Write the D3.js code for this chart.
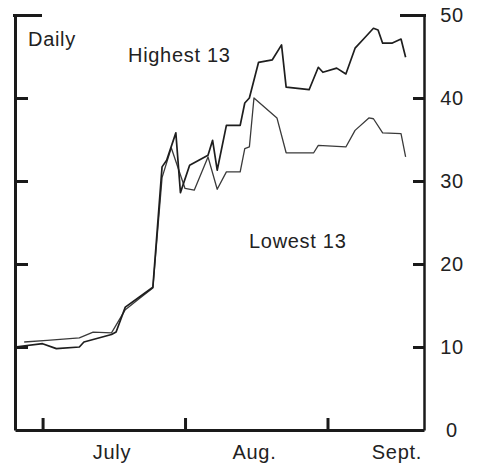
<!DOCTYPE html>
<html>
<head>
<meta charset="utf-8">
<script src="https://cdn.jsdelivr.net/npm/d3@7"></script>
<style>
  html, body { margin: 0; padding: 0; background: #fff; }
  svg { display: block; }
  text { font-family: "Liberation Sans", Arial, sans-serif; fill: #222; letter-spacing: 0.7px; }
</style>
</head>
<body>
<script>
// ---- data ----
const highDates = ["06-25","07-01","07-04","07-09","07-10","07-16","07-17","07-19","07-22","07-25",
  "07-27","07-28","07-30","07-31","08-02","08-06","08-07","08-08","08-10","08-13","08-14","08-15",
  "08-17","08-20","08-22","08-23","08-28","08-30","08-31","09-03","09-05","09-07","09-09","09-11",
  "09-12","09-13","09-15","09-17","09-18"];
const highValues = [10.0,10.4,9.8,10.0,10.6,11.5,11.8,14.8,16.0,17.2,
  31.7,32.5,35.8,28.6,31.9,33.1,34.9,31.3,36.7,36.7,39.4,40.0,
  44.3,44.6,46.4,41.3,41.0,43.7,43.1,43.6,42.9,46.0,47.2,48.4,
  48.2,46.6,46.6,47.1,44.9];

const lowDates = ["06-27","07-02","07-09","07-12","07-16","07-19","07-22","07-25","07-27","07-29",
  "08-01","08-03","08-06","08-08","08-10","08-13","08-14","08-15","08-16","08-21","08-23","08-29",
  "08-30","09-05","09-07","09-10","09-11","09-13","09-17","09-18"];
const lowValues = [10.6,10.8,11.1,11.8,11.7,14.5,15.8,17.1,30.4,34.0,
  29.1,28.9,32.9,29.0,31.1,31.1,33.9,34.1,40.0,37.6,33.4,33.4,
  34.3,34.1,36.1,37.6,37.5,35.8,35.7,32.9];

const yTicks = [0, 10, 20, 30, 40, 50];
const monthStarts = ["07-01", "08-01", "09-01"];
const monthMids = ["07-16", "08-16", "09-16"];
const monthLabels = ["July", "Aug.", "Sept."];
const seriesLabels = ["Highest 13", "Lowest 13"];
const frequencyLabel = "Daily";

// ---- setup ----
const parse = d3.timeParse("%m-%d");
const W = 480, H = 467;
const svg = d3.select("body").append("svg").attr("width", W).attr("height", H);

const x = d3.scaleTime().domain([parse("06-25"), parse("09-22")]).range([15, 424]);
const y = d3.scaleLinear().domain([0, 50]).range([430, 15]);

const high = highDates.map((d, i) => ({ date: parse(d), v: highValues[i] }));
const low = lowDates.map((d, i) => ({ date: parse(d), v: lowValues[i] }));

const line = d3.line().x(d => x(d.date)).y(d => y(d.v));

// ---- series ----
svg.append("path").datum(low).attr("d", line)
  .attr("fill", "none").attr("stroke", "#3a3a3a").attr("stroke-width", 1.3)
  .attr("stroke-linejoin", "round");
svg.append("path").datum(high).attr("d", line)
  .attr("fill", "none").attr("stroke", "#1e1e1e").attr("stroke-width", 1.7)
  .attr("stroke-linejoin", "round");

// ---- left axis (ticks inward, no labels) ----
const gL = svg.append("g").attr("transform", "translate(15,0)")
  .call(d3.axisRight(y).tickValues(yTicks.filter(v => v > 0)).tickSize(13).tickSizeOuter(0).tickFormat(""));
gL.select(".domain").attr("stroke", "#1a1a1a").attr("stroke-width", 3);
gL.selectAll(".tick line").attr("stroke", "#1a1a1a").attr("stroke-width", 3)
  .filter(d => d === 50).attr("x1", -2).attr("x2", 27);

// ---- right axis (ticks inward, labels outside) ----
const gR = svg.append("g").attr("transform", "translate(424,0)")
  .call(d3.axisRight(y).tickValues(yTicks).tickSize(-11).tickSizeOuter(0).tickPadding(28));
gR.select(".domain").attr("stroke", "#1a1a1a").attr("stroke-width", 2.5);
gR.selectAll(".tick line").attr("stroke", "#1a1a1a").attr("stroke-width", 3);
gR.selectAll(".tick line").filter(d => d === 50).attr("x1", 2).attr("x2", -24);
gR.selectAll(".tick line").filter(d => d === 0).remove();
gR.selectAll(".tick text").attr("text-anchor", "middle")
  .style("font-family", "'Liberation Sans', Arial, sans-serif").style("font-size", "20px").attr("fill", "#222");

// ---- bottom axis ----
const gB = svg.append("g").attr("transform", "translate(0,430)")
  .call(d3.axisBottom(x).tickValues(monthStarts.map(parse)).tickSize(-12).tickSizeOuter(0).tickFormat(""));
gB.select(".domain").attr("stroke", "#1a1a1a").attr("stroke-width", 3);
gB.selectAll(".tick line").attr("stroke", "#1a1a1a").attr("stroke-width", 3);

const gM = svg.append("g").attr("transform", "translate(0,430)")
  .call(d3.axisBottom(x).tickValues(monthMids.map(parse)).tickSize(0).tickPadding(15)
    .tickFormat((d, i) => monthLabels[i]));
gM.select(".domain").remove();
gM.selectAll(".tick text")
  .style("font-family", "'Liberation Sans', Arial, sans-serif").style("font-size", "20px").attr("fill", "#222");

// ---- annotations ----
svg.append("text").attr("x", 28).attr("y", 46).style("font-size", "20px").text(frequencyLabel);
svg.append("text").attr("x", 128).attr("y", 62).style("font-size", "20px").text(seriesLabels[0]);
svg.append("text").attr("x", 249).attr("y", 248).style("font-size", "20px").text(seriesLabels[1]);
</script>
</body>
</html>
